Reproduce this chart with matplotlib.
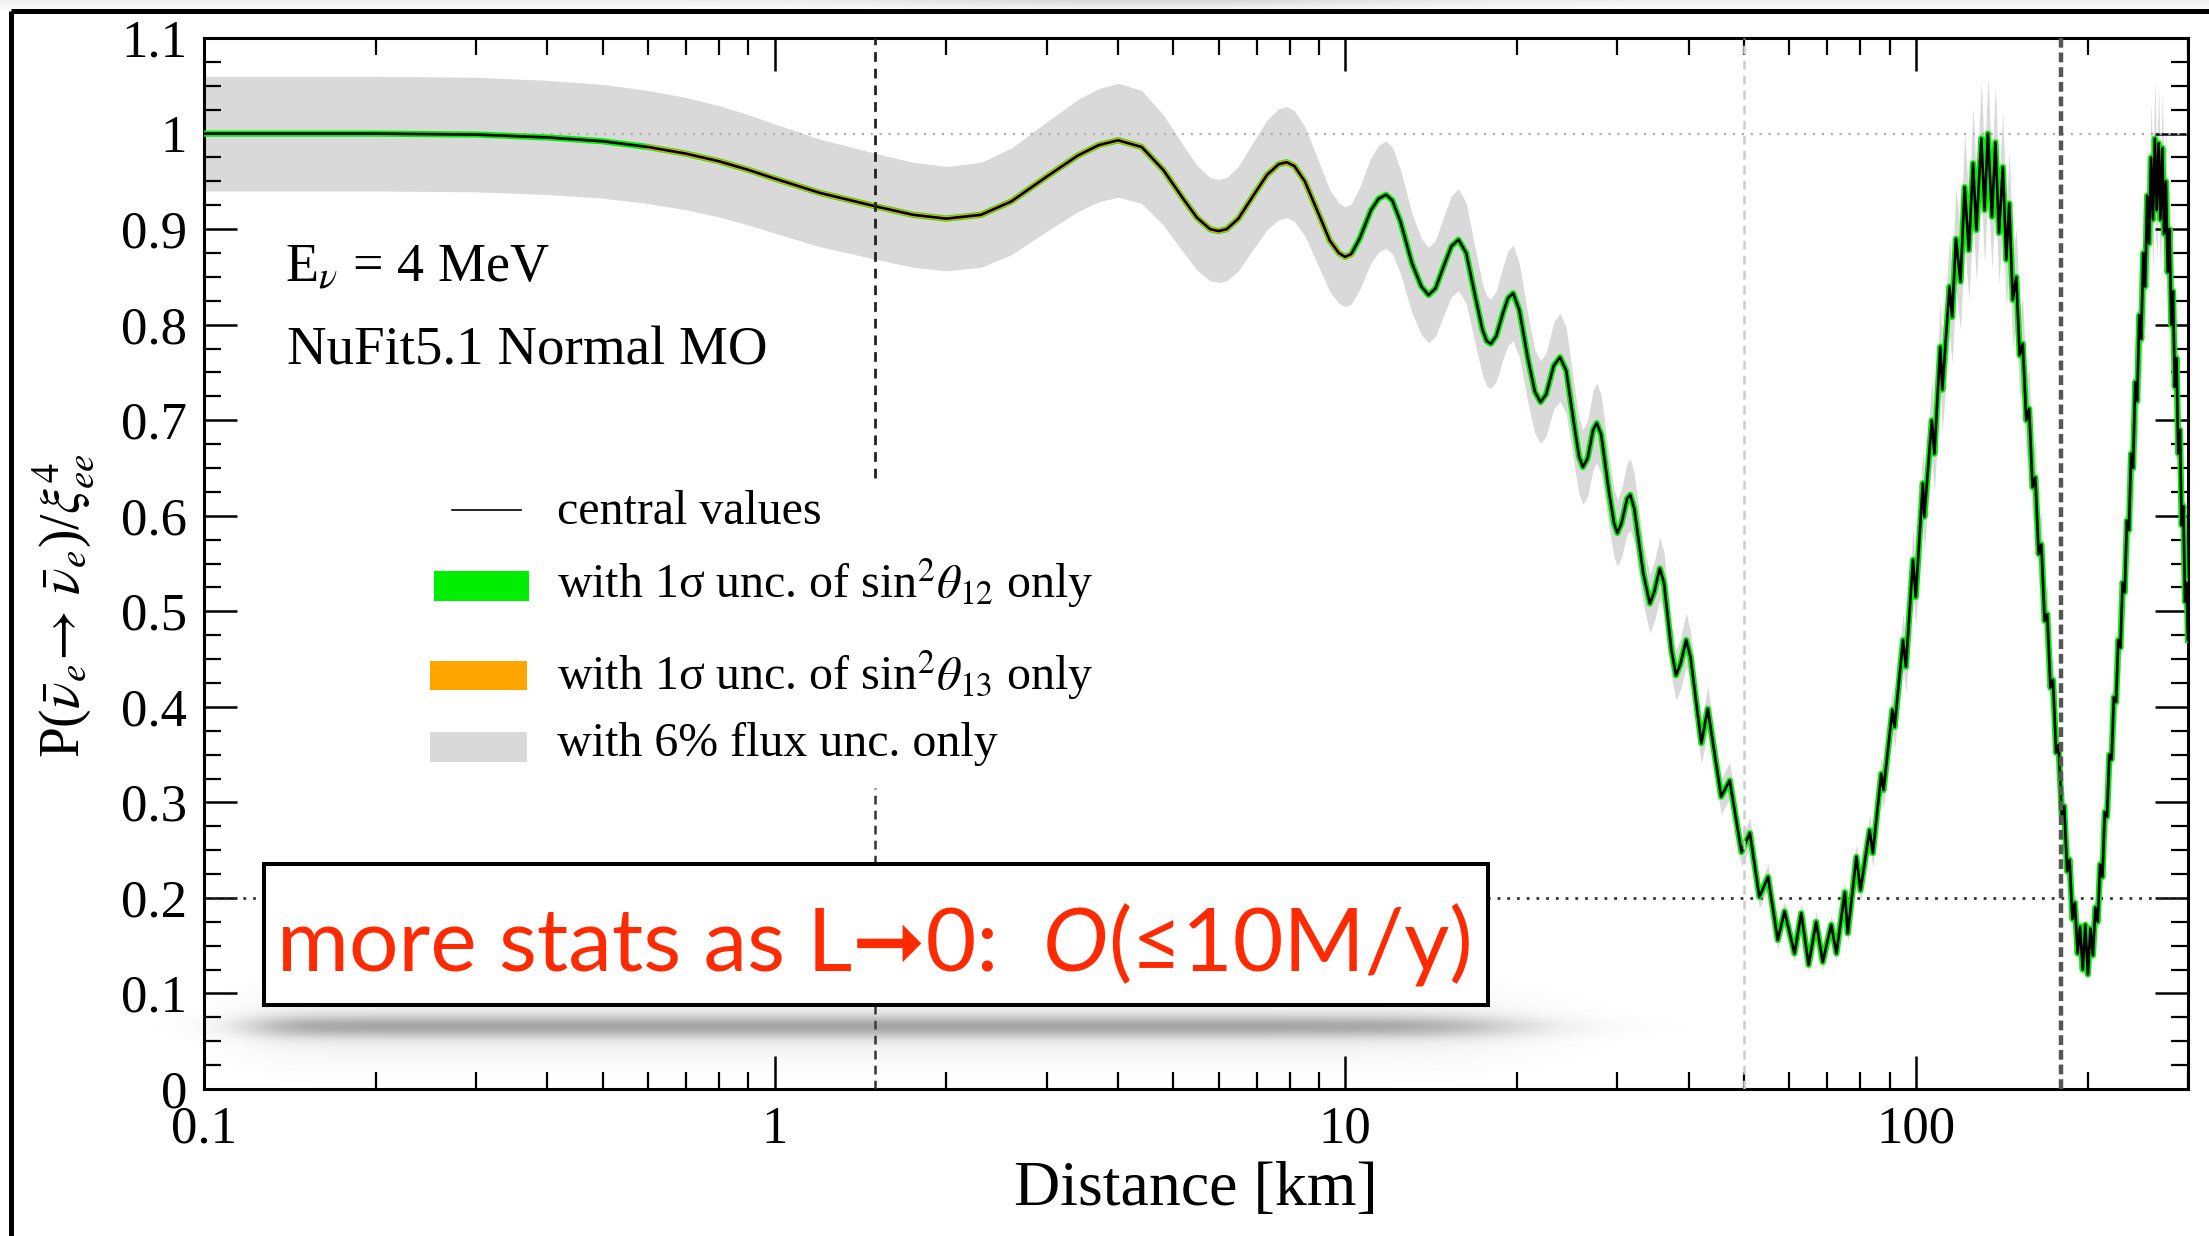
import numpy as np
import matplotlib
matplotlib.use("Agg")
import matplotlib.pyplot as plt
from matplotlib.patches import Rectangle
from matplotlib.lines import Line2D
from matplotlib.ticker import MultipleLocator, LogLocator, NullFormatter

plt.rcParams['font.family'] = ['Liberation Serif', 'DejaVu Serif']
plt.rcParams['mathtext.fontset'] = 'stix'

# distance [km] and central survival probability
dist_km = [0.1, 0.2, 0.3, 0.4, 0.5, 0.6, 0.7, 0.8, 0.9, 1.0, 1.2, 1.5, 1.75, 2.0, 2.3,
           2.6, 3.0, 3.4, 3.7, 4.0, 4.4, 4.8, 5.2, 5.5, 5.8, 6.0, 6.2, 6.5, 6.9, 7.3,
           7.65, 7.9, 8.15, 8.5, 9.0, 9.4, 9.75, 10.0, 10.25, 10.6, 11.1, 11.45, 11.8,
           12.1, 12.5, 13.1, 13.6, 14.0, 14.4, 14.9, 15.35, 15.8, 16.3, 16.9, 17.4,
           17.7, 18.0, 18.4, 18.9, 19.3, 19.7, 20.2, 20.9, 21.5, 22.0, 22.5, 23.2,
           23.8, 24.4, 25.2, 25.7, 26.1, 26.6, 27.2, 27.6, 28.1, 29.0, 29.6, 30.0,
           30.5, 31.2, 31.6, 32.1, 33.3, 34.2, 34.8, 35.6, 36.2, 37.3, 38.0, 38.7,
           39.6, 40.3, 42.1, 43.2, 45.6,
           47.2, 49.5, 51.2, 53.2, 55.1, 57.3, 58.9, 61.3, 63.0, 64.9, 66.9, 68.7,
           71.1, 72.6, 75.1, 76.0, 78.7, 80.0, 83.0, 84.1, 87.0, 87.8, 91.0, 91.8,
           95.0, 96.1, 98.9, 100.0, 102.9, 103.5, 106.7, 107.8, 110.4, 111.3, 114.6,
           115.8, 117.6, 119.8, 121.8, 123.9, 126.0, 127.7, 130.3, 132.0, 133.8,
           136.0, 137.9, 139.9, 142.1, 144.1, 145.8, 147.9, 150.0, 152.1, 154.0,
           156.2, 158.0, 160.2, 162.0, 164.2, 166.0, 168.2, 170.0, 172.2, 174.0,
           176.2, 178.0, 180.2, 182.0, 184.2, 186.0, 188.2, 190.0, 192.2, 194.0,
           196.2, 198.2, 200.3, 202.3, 204.4, 206.4, 208.4, 210.4, 212.4, 214.4,
           216.4, 218.4, 220.4, 222.4, 224.4, 226.4, 228.4, 230.4, 232.4, 234.4,
           236.4, 238.4, 240.4, 242.4, 244.4, 246.4, 248.4, 250.4, 252.4, 254.4,
           256.4, 258.4, 260.4, 262.4, 264.4, 266.4, 268.4, 270.4, 272.4, 274.4,
           276.4, 278.4, 280.4, 282.4, 284.4, 286.4, 288.4, 290.4, 292.4, 294.4,
           296.4, 298.4, 300.0]
p_central = [1.000, 1.000, 0.999, 0.996, 0.992, 0.986, 0.979, 0.971, 0.962, 0.953, 0.938,
             0.924, 0.915, 0.911, 0.915, 0.929, 0.955, 0.977, 0.988, 0.993, 0.986, 0.962,
             0.932, 0.912, 0.900, 0.898, 0.900, 0.911, 0.935, 0.957, 0.968, 0.970, 0.966,
             0.950, 0.915, 0.888, 0.875, 0.871, 0.874, 0.890, 0.920, 0.932, 0.936, 0.930,
             0.908, 0.864, 0.840, 0.831, 0.838, 0.862, 0.882, 0.889, 0.875, 0.830, 0.795,
             0.783, 0.780, 0.788, 0.812, 0.828, 0.833, 0.815, 0.765, 0.730, 0.719, 0.727,
             0.757, 0.766, 0.752, 0.695, 0.662, 0.651, 0.660, 0.690, 0.697, 0.685, 0.625,
             0.592, 0.582, 0.592, 0.618, 0.622, 0.608, 0.540, 0.508, 0.520, 0.545, 0.530,
             0.460, 0.433, 0.445, 0.470, 0.452, 0.362, 0.398, 0.306,
             0.323, 0.248, 0.268, 0.201, 0.222, 0.156, 0.186, 0.142, 0.184, 0.130,
             0.175, 0.133, 0.172, 0.142, 0.206, 0.163, 0.243, 0.208, 0.271, 0.247, 0.330,
             0.313, 0.397, 0.379, 0.470, 0.442, 0.554, 0.515, 0.634, 0.599, 0.700, 0.665,
             0.777, 0.732, 0.840, 0.808, 0.890, 0.845, 0.944, 0.878, 0.969, 0.899, 0.995,
             0.920, 1.000, 0.913, 0.991, 0.896, 0.965, 0.868, 0.927, 0.826, 0.850, 0.768,
             0.780, 0.700, 0.712, 0.630, 0.640, 0.560, 0.570, 0.490, 0.497, 0.420, 0.428,
             0.352, 0.360, 0.287, 0.296, 0.228, 0.240, 0.178, 0.195, 0.142, 0.170, 0.125,
             0.172, 0.120, 0.168, 0.140, 0.190, 0.175, 0.235, 0.222, 0.290, 0.285, 0.350,
             0.345, 0.410, 0.405, 0.470, 0.462, 0.530, 0.520, 0.595, 0.585, 0.665, 0.650,
             0.740, 0.720, 0.810, 0.785, 0.875, 0.840, 0.935, 0.885, 0.975, 0.910, 0.995,
             0.920, 0.990, 0.910, 0.985, 0.895, 0.950, 0.855, 0.900, 0.800, 0.835, 0.735,
             0.765, 0.665, 0.690, 0.590, 0.610, 0.510, 0.530, 0.470]

flux_unc = 0.06              # 6% flux band
theta13_range = (0.6, 10.5)  # where the orange band shows over the green one
marker_km = [1.5, 50, 180]

ytick_vals = [0, 0.1, 0.2, 0.3, 0.4, 0.5, 0.6, 0.7, 0.8, 0.9, 1.0, 1.1]
ytick_labels = ['0', '0.1', '0.2', '0.3', '0.4', '0.5', '0.6', '0.7', '0.8', '0.9', '1', '1.1']
xtick_vals = [0.1, 1, 10, 100]
xtick_labels = ['0.1', '1', '10', '100']

d = np.array(dist_km)
p = np.array(p_central)

fig = plt.figure(figsize=(22.09, 12.36), dpi=100)
ax = fig.add_axes([0.0923, 0.1189, 0.8982, 0.8503])
ax.set_xscale('log')
ax.set_xlim(0.1, 300)
ax.set_ylim(0, 1.1)

# bands and curve
ax.fill_between(d, p * (1 - flux_unc), p * (1 + flux_unc), color='#d9d9d9', lw=0, zorder=1)
ax.axhline(1.0, color='#b0b0b0', ls=(0, (1, 3)), lw=1.6, zorder=2)
ax.axhline(0.2, color='#333333', ls=(0, (1, 2.5)), lw=2.0, zorder=2)
ax.plot(d, p, color='#00ee00', lw=4.5, zorder=3, solid_joinstyle='round')
m = (d >= theta13_range[0]) & (d <= theta13_range[1])
ax.plot(d[m], p[m], color='#ffa500', lw=3.4, zorder=3.1, solid_joinstyle='round')
ax.plot(d, p, color='black', lw=1.9, zorder=4)

# vertical markers
ax.plot([marker_km[0]] * 2, [0.64, 1.1], color='#222222', ls=(0, (3.5, 2.5)), lw=2, zorder=5)
ax.plot([marker_km[0]] * 2, [0.0, 0.315], color='#333333', ls=(0, (3.5, 2.5)), lw=1.8, zorder=5)
ax.axvline(marker_km[1], color='#cccccc', ls=(0, (3.5, 2.5)), lw=1.8, zorder=5)
ax.axvline(marker_km[2], color='#555555', ls=(0, (2.2, 1.1)), lw=3.2, zorder=5)

# ticks
ax.set_yticks(ytick_vals)
ax.set_yticklabels(ytick_labels)
ax.yaxis.set_minor_locator(MultipleLocator(0.025))
ax.set_xticks(xtick_vals)
ax.set_xticklabels(xtick_labels)
ax.xaxis.set_minor_locator(LogLocator(base=10, subs=np.arange(2, 10), numticks=20))
ax.xaxis.set_minor_formatter(NullFormatter())
ax.tick_params(which='both', direction='in', top=True, right=True)
ax.tick_params(which='major', length=24, width=1.8, labelsize=38, pad=12)
ax.tick_params(which='minor', length=12, width=1.6)
for s in ax.spines.values():
    s.set_linewidth(2.2)

ax.text(-0.071, 0.46, r'P($\bar{\nu}_e\!\rightarrow\,\bar{\nu}_e$)/$\xi^4_{ee}$',
        transform=ax.transAxes, rotation=90, ha='center', va='center', fontsize=40)
ax.text(0.5, -0.096, 'Distance [km]', transform=ax.transAxes, ha='center', va='center',
        fontsize=46)

ax.text(0.041, 0.781, r'E$_\nu$ = 4 MeV', transform=ax.transAxes, ha='left', va='center',
        fontsize=39)
ax.text(0.042, 0.702, 'NuFit5.1 Normal MO', transform=ax.transAxes, ha='left', va='center',
        fontsize=39.5)

# legend drawn by hand (rows are not evenly spaced in the original)
ax.add_line(Line2D([0.125, 0.160], [0.551, 0.551], transform=ax.transAxes, color='black', lw=1.2))
ax.add_patch(Rectangle((0.116, 0.464), 0.048, 0.029, transform=ax.transAxes, color='#00ee00', lw=0))
ax.add_patch(Rectangle((0.114, 0.380), 0.049, 0.027, transform=ax.transAxes, color='#ffa500', lw=0))
ax.add_patch(Rectangle((0.114, 0.311), 0.049, 0.029, transform=ax.transAxes, color='#d9d9d9', lw=0))
leg_txt = ['central values',
           r'with 1σ unc. of sin$^2\theta_{12}$ only',
           r'with 1σ unc. of sin$^2\theta_{13}$ only',
           'with 6% flux unc. only']
for t, yy in zip(leg_txt, [0.549, 0.481, 0.394, 0.328]):
    ax.text(0.178, yy, t, transform=ax.transAxes, ha='left', va='center', fontsize=34.5)

# slide overlay: frame, shadowed box with red note
ov = fig.add_axes([0, 0, 1, 1], zorder=10)
ov.set_xlim(0, 2209)
ov.set_ylim(1236, 0)
ov.axis('off')

xs = np.arange(150, 1700)
ys = np.arange(960, 1092)
hx = 1 / (1 + np.exp(-(xs - 255) / 22.0)) / (1 + np.exp((xs - 1500) / 40.0))
vy = 0.40 * np.exp(-((ys - 1026) / 11.0) ** 2) + 0.10 * np.exp(-((ys - 1026) / 32.0) ** 2)
shadow = np.zeros((len(ys), len(xs), 4))
shadow[..., :3] = 0.3
shadow[..., 3] = vy[:, None] * hx[None, :]
ov.imshow(shadow, extent=(150, 1700, 1092, 960), aspect='auto', interpolation='bilinear', zorder=1)

tx = np.arange(0, 2209)
tyy = np.arange(0, 10)
top = np.zeros((len(tyy), len(tx), 4))
top[..., :3] = 0.6
top[..., 3] = (0.15 + 0.25 * np.exp(-((tx - 1150) / 250.0) ** 2))[None, :] * np.linspace(1, 0.2, len(tyy))[:, None]
ov.imshow(top, extent=(0, 2209, 10, 0), aspect='auto', zorder=1)

ov.plot([11, 11], [11, 1236], color='black', lw=3.6, zorder=3, solid_capstyle='butt')
ov.plot([11, 2209], [11, 11], color='black', lw=3.6, zorder=3, solid_capstyle='butt')

ov.add_patch(Rectangle((263.5, 864), 1224.5, 141, facecolor='white', edgecolor='black', lw=2.9, zorder=2))
red = '#ff2a00'
fam = ['Lato', 'DejaVu Sans']
t1 = ov.text(277, 972, 'more stats as L\u279e0:  ', color=red, fontsize=63, family=fam,
             ha='left', va='baseline', zorder=4)
t2 = ov.annotate('O', xy=(1, 0), xycoords=t1, va='bottom', ha='left', color=red, fontsize=63,
                 family=fam, style='italic', zorder=4)
t3 = ov.annotate('(\u226410M/y)', xy=(1, 0), xycoords=t2, va='bottom', ha='left', color=red,
                 fontsize=63, family=fam, zorder=4)

fig.savefig('out.png', dpi=100)
